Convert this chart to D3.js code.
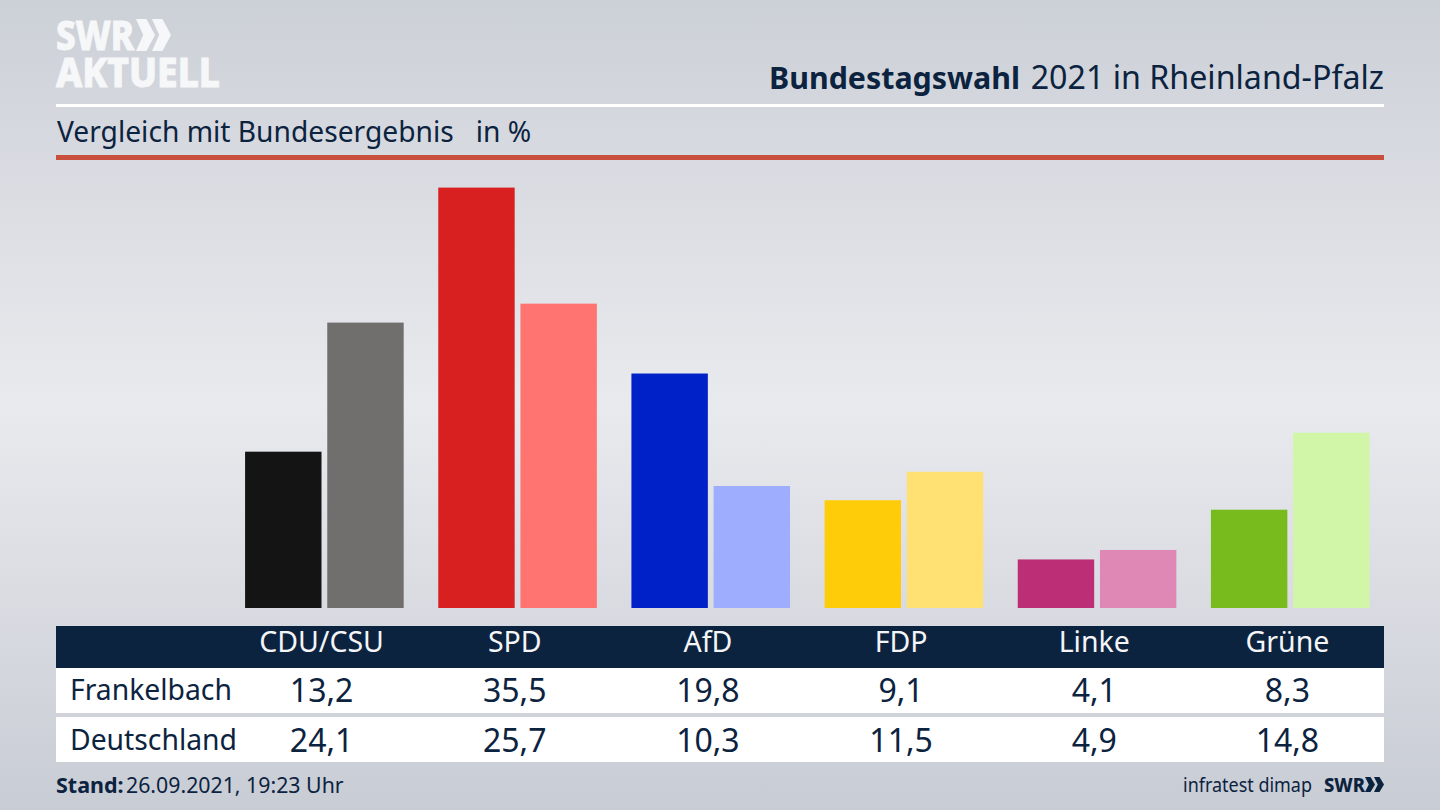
<!DOCTYPE html>
<html>
<head>
<meta charset="utf-8">
<script src="https://cdn.jsdelivr.net/npm/d3@7"></script>
<style>
  html, body { margin: 0; padding: 0; background: #dfe1e6; }
  svg { display: block; }
  text { font-family: "Noto Sans", sans-serif; fill: #0c2340; }
</style>
</head>
<body>
<svg id="chart"></svg>
<script>
const parties = ['CDU/CSU', 'SPD', 'AfD', 'FDP', 'Linke', 'Grüne'];
const regions = ['Frankelbach', 'Deutschland'];
const frankelbach = [13.2, 35.5, 19.8, 9.1, 4.1, 8.3];
const deutschland = [24.1, 25.7, 10.3, 11.5, 4.9, 14.8];
const coloursFrankelbach = ['#141414', '#d7201f', '#0020c8', '#ffcc0a', '#bc2f76', '#77bc1c'];
const coloursDeutschland = ['#716f6d', '#ff7370', '#9fadff', '#ffe072', '#df88b6', '#d2f6a8'];

const width = 1440;
const height = 810;
const navy = '#0c2340';
const fmt = (d) => d.toFixed(1).replace('.', ',');

const svg = d3.select('#chart').attr('width', width).attr('height', height);

// background
const grad = svg.append('defs').append('linearGradient')
  .attr('id', 'bg').attr('x1', 0).attr('y1', 0).attr('x2', 0).attr('y2', 1);
grad.append('stop').attr('offset', '0%').attr('stop-color', '#ccd0d7');
grad.append('stop').attr('offset', '50%').attr('stop-color', '#e9eaee');
grad.append('stop').attr('offset', '100%').attr('stop-color', '#c8ccd4');
svg.append('rect').attr('width', width).attr('height', height).attr('fill', 'url(#bg)');

// logo top left
const chevron = (g, x, y, w, h, fill) => {
  g.append('path')
    .attr('d', `M${x},${y}h${w * 0.55}l${w * 0.45},${h / 2}l${-w * 0.45},${h / 2}h${-w * 0.55}l${w * 0.38},${-h / 2}z`)
    .attr('fill', fill);
};
const logo = svg.append('g');
logo.append('text').attr('x', 56).attr('y', 50).text('SWR')
  .attr('font-size', 41).attr('font-weight', 800).attr('textLength', 78)
  .attr('lengthAdjust', 'spacingAndGlyphs')
  .style('fill', '#f6f7f8').style('stroke', '#f6f7f8').style('stroke-width', 1);
chevron(logo, 136, 19, 19, 32, '#f6f7f8');
chevron(logo, 152, 19, 19, 32, '#f6f7f8');
logo.append('text').attr('x', 56).attr('y', 87).text('AKTUELL')
  .attr('font-size', 41).attr('font-weight', 800).attr('textLength', 164)
  .attr('lengthAdjust', 'spacingAndGlyphs')
  .style('fill', '#f6f7f8').style('stroke', '#f6f7f8').style('stroke-width', 1);

// title
svg.append('text').attr('x', 769).attr('y', 89).attr('font-size', 31).attr('font-weight', 700)
  .attr('textLength', 251).attr('lengthAdjust', 'spacingAndGlyphs').text('Bundestagswahl');
svg.append('text').attr('x', 1384).attr('y', 89).attr('text-anchor', 'end').attr('font-size', 32.2)
  .text('2021 in Rheinland-Pfalz');

svg.append('rect').attr('x', 56).attr('y', 104).attr('width', 1328).attr('height', 3).attr('fill', '#fff');
svg.append('text').attr('x', 57).attr('y', 142).attr('font-size', 28.2)
  .attr('xml:space', 'preserve').style('white-space', 'pre').text('Vergleich mit Bundesergebnis   in %');
svg.append('rect').attr('x', 56).attr('y', 155).attr('width', 1328).attr('height', 5).attr('fill', '#c8503c');

// scales
const x0 = d3.scaleBand().domain(parties).range([228, 1387]);
const x1 = d3.scaleBand().domain(regions).range([0, 158.6]).paddingInner(0.07);
const y = d3.scaleLinear().domain([0, 35.5]).range([608, 187.6]);

const groups = svg.append('g').selectAll('g')
  .data(parties)
  .enter()
  .append('g')
  .attr('transform', (d) => `translate(${x0(d) + (x0.bandwidth() - 159) / 2},0)`);

groups.append('rect')
  .attr('x', x1(regions[0]))
  .attr('y', (_, i) => y(frankelbach[i]))
  .attr('width', x1.bandwidth())
  .attr('height', (_, i) => y(0) - y(frankelbach[i]))
  .attr('fill', (_, i) => coloursFrankelbach[i]);

groups.append('rect')
  .attr('x', x1(regions[1]))
  .attr('y', (_, i) => y(deutschland[i]))
  .attr('width', x1.bandwidth())
  .attr('height', (_, i) => y(0) - y(deutschland[i]))
  .attr('fill', (_, i) => coloursDeutschland[i]);

// table
svg.append('rect').attr('x', 56).attr('y', 626).attr('width', 1328).attr('height', 42).attr('fill', navy);
svg.append('rect').attr('x', 56).attr('y', 668).attr('width', 1328).attr('height', 45).attr('fill', '#fff');
svg.append('rect').attr('x', 56).attr('y', 717).attr('width', 1328).attr('height', 45).attr('fill', '#fff');

// party names: bottom axis with the header bar behind it
const headerAxis = svg.append('g')
  .attr('transform', 'translate(-3,626)')
  .call(d3.axisBottom(x0).tickSize(0).tickPadding(6));
headerAxis.select('.domain').remove();
headerAxis.selectAll('text')
  .attr('font-size', 28.5)
  .style('font-family', '"Noto Sans", sans-serif')
  .style('fill', '#f4f5f7');

const cx = (p) => x0(p) + x0.bandwidth() / 2 - 3;
const rows = [frankelbach, deutschland];
const rowY = [700, 750];
rows.forEach((vals, r) => {
  svg.append('text').attr('x', 70).attr('y', rowY[r]).attr('font-size', 28.3).text(regions[r]);
  svg.append('g').selectAll('text')
    .data(vals)
    .enter()
    .append('text')
    .attr('x', (_, i) => cx(parties[i]))
    .attr('y', rowY[r] + 2)
    .attr('text-anchor', 'middle')
    .attr('font-size', 32)
    .text((d) => fmt(d));
});

// footer
svg.append('text').attr('x', 56).attr('y', 793).attr('font-size', 21.5).attr('font-weight', 700).text('Stand:');
svg.append('text').attr('x', 126).attr('y', 793).attr('font-size', 21.3).text('26.09.2021, 19:23 Uhr');
svg.append('text').attr('x', 1183).attr('y', 792).attr('font-size', 20)
  .attr('textLength', 129).attr('lengthAdjust', 'spacingAndGlyphs').text('infratest dimap');
svg.append('text').attr('x', 1324).attr('y', 792).attr('font-size', 20).attr('font-weight', 800)
  .attr('textLength', 41).attr('lengthAdjust', 'spacingAndGlyphs').text('SWR');
chevron(svg, 1365, 777, 10, 15, navy);
chevron(svg, 1374, 777, 10, 15, navy);
</script>
</body>
</html>
